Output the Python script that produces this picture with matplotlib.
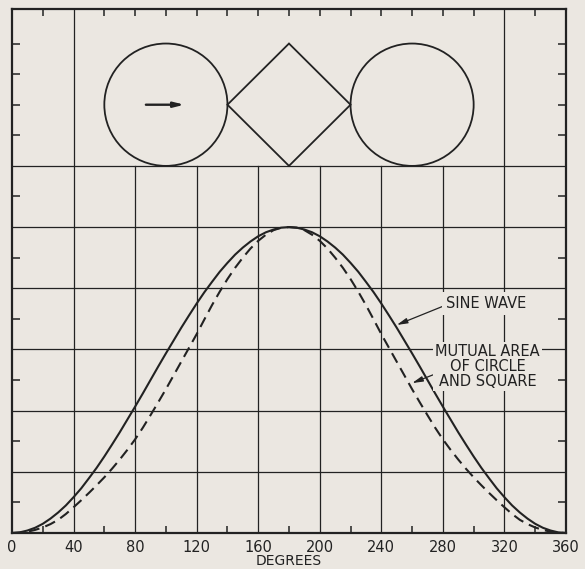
import matplotlib
matplotlib.use("Agg")
import matplotlib.pyplot as plt
from matplotlib.patches import Ellipse, Polygon

# values, every 5 degrees
degrees = list(range(0, 361, 5))
sine_wave = [0.000, 0.002, 0.008, 0.017, 0.030, 0.047, 0.067, 0.090, 0.117, 0.146,
             0.179, 0.213, 0.250, 0.289, 0.329, 0.371, 0.413, 0.456, 0.500, 0.544,
             0.587, 0.629, 0.671, 0.711, 0.750, 0.787, 0.821, 0.854, 0.883, 0.910,
             0.933, 0.953, 0.970, 0.983, 0.992, 0.998, 1.000,
             0.998, 0.992, 0.983, 0.970, 0.953, 0.933, 0.910, 0.883, 0.854, 0.821,
             0.787, 0.750, 0.711, 0.671, 0.629, 0.587, 0.544, 0.500, 0.456, 0.413,
             0.371, 0.329, 0.289, 0.250, 0.213, 0.179, 0.146, 0.117, 0.090, 0.067,
             0.047, 0.030, 0.017, 0.008, 0.002, 0.000]
mutual_area = [0.000, 0.001, 0.004, 0.010, 0.018, 0.029, 0.043, 0.062, 0.084, 0.107,
               0.131, 0.156, 0.182, 0.210, 0.240, 0.272, 0.306, 0.344, 0.385, 0.427,
               0.470, 0.515, 0.560, 0.605, 0.650, 0.698, 0.745, 0.789, 0.830, 0.867,
               0.900, 0.930, 0.955, 0.975, 0.990, 0.998, 1.000,
               0.998, 0.990, 0.975, 0.955, 0.930, 0.900, 0.867, 0.830, 0.789, 0.745,
               0.698, 0.650, 0.605, 0.560, 0.515, 0.470, 0.427, 0.385, 0.344, 0.306,
               0.272, 0.240, 0.210, 0.182, 0.156, 0.131, 0.107, 0.084, 0.062, 0.043,
               0.029, 0.018, 0.010, 0.004, 0.001, 0.000]

x_labels = list(range(0, 361, 40))
grid_x = list(range(40, 321, 40))
grid_y = [0.2, 0.4, 0.6, 0.8, 1.0, 1.2]

BG = "#ebe7e1"
INK = "#222222"

fig = plt.figure(figsize=(5.85, 5.69), dpi=100, facecolor=BG)
ax = fig.add_axes([0.0205, 0.0633, 0.947, 0.9204], facecolor=BG)
ax.set_xlim(0, 360)
ax.set_ylim(0, 1.712)

# grid: vertical lines stop at 1.2 except 40 and 320
for gx in grid_x:
    top = 1.712 if gx in (40, 320) else 1.2
    ax.plot([gx, gx], [0, top], color=INK, lw=0.9, zorder=1)
for gy in grid_y:
    ax.plot([0, 360], [gy, gy], color=INK, lw=0.9, zorder=1)

ax.plot(degrees, sine_wave, color=INK, lw=1.5, zorder=3)
ax.plot(degrees, mutual_area, color=INK, lw=1.5, ls=(0, (5.2, 3.0)), zorder=3)

# circle -> square -> circle sketch in the top band
for cx in (100, 260):
    ax.add_patch(Ellipse((cx, 1.4), 80, 0.4, fill=False, ec=INK, lw=1.3, zorder=3))
ax.add_patch(Polygon([[140, 1.4], [180, 1.6], [220, 1.4], [180, 1.2]], closed=True,
                     fill=False, ec=INK, lw=1.3, zorder=3))
ax.annotate("", xy=(112, 1.4), xytext=(87, 1.4),
            arrowprops=dict(arrowstyle="-|>,head_length=0.6,head_width=0.15",
                            color=INK, lw=1.7, shrinkA=0, shrinkB=0), zorder=4)

# labels
ax.annotate("SINE WAVE", xy=(250, 0.68), xytext=(282, 0.75),
            fontsize=10.5, color=INK, ha="left", va="center",
            bbox=dict(boxstyle="square,pad=0.25", fc=BG, ec="none"),
            arrowprops=dict(arrowstyle="-|>,head_length=0.6,head_width=0.15",
                            color=INK, lw=0.9, shrinkA=0, shrinkB=0,
                            relpos=(0.0, 0.4)), zorder=5)
ax.annotate("MUTUAL AREA\nOF CIRCLE\nAND SQUARE", xy=(260, 0.49), xytext=(309, 0.545),
            fontsize=10.5, color=INK, ha="center", va="center", multialignment="center",
            linespacing=1.0,
            bbox=dict(boxstyle="square,pad=0.15", fc=BG, ec="none"),
            arrowprops=dict(arrowstyle="-|>,head_length=0.6,head_width=0.15",
                            color=INK, lw=0.9, shrinkA=0, shrinkB=0,
                            relpos=(0.1, 0.42)), zorder=5)

# ticks
ax.set_xticks(x_labels)
ax.set_xticklabels([str(v) for v in x_labels], fontsize=10.5, color=INK)
ax.set_xticks(list(range(20, 341, 40)), minor=True)
ax.set_yticks([])
ax.set_yticks([0.1, 0.3, 0.5, 0.7, 0.9, 1.1, 1.3, 1.4, 1.5, 1.6], minor=True)
ax.tick_params(axis="x", which="major", length=0, pad=5)
ax.tick_params(axis="x", which="minor", direction="in", length=5, width=1.1, color=INK)
ax.tick_params(axis="y", which="minor", direction="in", length=6, width=1.1,
               color=INK, left=True, right=True)

top = ax.secondary_xaxis("top")
top.set_xticks([v for v in range(20, 341, 20) if v not in (40, 320)])
top.tick_params(direction="in", length=5, width=1.1, color=INK, labeltop=False)
top.spines["top"].set_visible(False)

for sp in ax.spines.values():
    sp.set_linewidth(1.6)
    sp.set_color(INK)

ax.set_xlabel("DEGREES", fontsize=10, color=INK, labelpad=-1)

fig.savefig("out.png", dpi=100, facecolor=BG)
